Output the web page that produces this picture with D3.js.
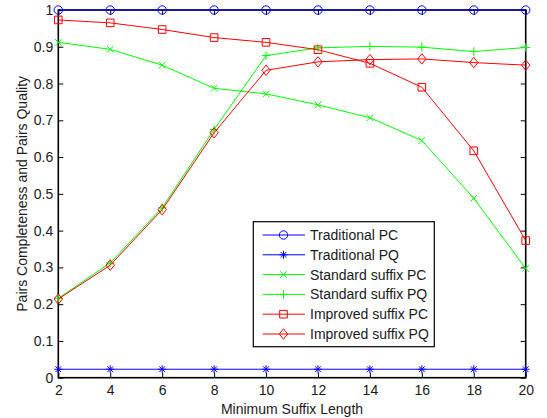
<!DOCTYPE html>
<html>
<head>
<meta charset="utf-8">
<script src="https://cdn.jsdelivr.net/npm/d3@7"></script>
<style>
  html, body { margin: 0; padding: 0; background: #fff; }
  text { font-family: "Liberation Sans", Arial, sans-serif; fill: #1a1a1a; }
</style>
</head>
<body>
<svg id="chart" width="547" height="418"></svg>
<script>
// Minimum suffix length values on the x axis
const suffixLengths = [2, 4, 6, 8, 10, 12, 14, 16, 18, 20];

// Pairs completeness (PC) and pairs quality (PQ) for each method
const traditionalPC = [1, 1, 1, 1, 1, 1, 1, 1, 1, 1];
const traditionalPQ = [0.023, 0.023, 0.023, 0.023, 0.023, 0.023, 0.023, 0.023, 0.023, 0.023];
const standardPC = [0.912, 0.893, 0.850, 0.787, 0.772, 0.742, 0.707, 0.645, 0.488, 0.297];
const standardPQ = [0.216, 0.312, 0.462, 0.675, 0.876, 0.897, 0.901, 0.899, 0.887, 0.898];
const improvedPC = [0.973, 0.965, 0.947, 0.925, 0.912, 0.892, 0.855, 0.790, 0.617, 0.373];
const improvedPQ = [0.214, 0.306, 0.457, 0.666, 0.836, 0.859, 0.865, 0.867, 0.857, 0.850];

const yTicks = [0, 0.1, 0.2, 0.3, 0.4, 0.5, 0.6, 0.7, 0.8, 0.9, 1];

const series = [
  { name: "Traditional PC", values: traditionalPC, color: "#0000ff", marker: "circle" },
  { name: "Traditional PQ", values: traditionalPQ, color: "#0000ff", marker: "star" },
  { name: "Standard suffix PC", values: standardPC, color: "#00ff00", marker: "x" },
  { name: "Standard suffix PQ", values: standardPQ, color: "#00ff00", marker: "plus" },
  { name: "Improved suffix PC", values: improvedPC, color: "#ff0000", marker: "square" },
  { name: "Improved suffix PQ", values: improvedPQ, color: "#ff0000", marker: "diamond" }
];

const svg = d3.select("#chart");
const plotLeft = 58.3, plotRight = 525.7, plotTop = 10, plotBottom = 377.7;
const fontSize = 14;

const x = d3.scaleLinear().domain([2, 20]).range([plotLeft, plotRight]);
const y = d3.scaleLinear().domain([0, 1]).range([plotBottom, plotTop]);

// Marker path generators, centred on the origin
function markerPath(type) {
  const p = d3.path();
  switch (type) {
    case "circle": p.moveTo(4.2, 0); p.arc(0, 0, 4.2, 0, 2 * Math.PI); break;
    case "square": p.rect(-3.8, -3.8, 7.6, 7.6); break;
    case "diamond": p.moveTo(0, -5.2); p.lineTo(4.2, 0); p.lineTo(0, 5.2); p.lineTo(-4.2, 0); p.closePath(); break;
    case "x": p.moveTo(-3.3, -3.3); p.lineTo(3.3, 3.3); p.moveTo(-3.3, 3.3); p.lineTo(3.3, -3.3); break;
    case "plus": p.moveTo(-4.3, 0); p.lineTo(4.3, 0); p.moveTo(0, -4.3); p.lineTo(0, 4.3); break;
    case "star":
      p.moveTo(-4, 0); p.lineTo(4, 0); p.moveTo(0, -4); p.lineTo(0, 4);
      p.moveTo(-2.9, -2.9); p.lineTo(2.9, 2.9); p.moveTo(-2.9, 2.9); p.lineTo(2.9, -2.9);
      break;
  }
  return p.toString();
}

// Axes: ticks point inward on all four sides
const gAxes = svg.append("g");
const tickLen = 5;
gAxes.append("g")
  .attr("transform", `translate(0,${plotBottom})`)
  .call(d3.axisBottom(x).tickValues(suffixLengths).tickSizeInner(-tickLen).tickSizeOuter(0).tickPadding(7))
  .call(g => g.select(".domain").remove());
gAxes.append("g")
  .attr("transform", `translate(0,${plotTop})`)
  .call(d3.axisTop(x).tickValues(suffixLengths).tickSizeInner(-tickLen).tickSizeOuter(0).tickFormat(""))
  .call(g => g.select(".domain").remove());
gAxes.append("g")
  .attr("transform", `translate(${plotLeft},0)`)
  .call(d3.axisLeft(y).tickValues(yTicks).tickSizeInner(-tickLen).tickSizeOuter(0).tickPadding(5)
    .tickFormat(d => d === 0 || d === 1 ? String(d) : d3.format(".1f")(d)))
  .call(g => g.select(".domain").remove());
gAxes.append("g")
  .attr("transform", `translate(${plotRight},0)`)
  .call(d3.axisRight(y).tickValues(yTicks).tickSizeInner(-tickLen).tickSizeOuter(0).tickFormat(""))
  .call(g => g.select(".domain").remove());

gAxes.selectAll(".tick line").attr("stroke", "#000").attr("stroke-width", 1);
gAxes.selectAll(".tick text")
  .attr("font-size", fontSize).attr("fill", "#1a1a1a")
  .attr("font-family", "'Liberation Sans', Arial, sans-serif");

// Plot box
svg.append("rect")
  .attr("x", plotLeft).attr("y", plotTop)
  .attr("width", plotRight - plotLeft).attr("height", plotBottom - plotTop)
  .attr("fill", "none").attr("stroke", "#000").attr("stroke-width", 1.6);

// Series lines and markers
const line = d3.line().x((d, i) => x(suffixLengths[i])).y(d => y(d));
const gSeries = svg.append("g");
series.forEach(s => {
  gSeries.append("path")
    .attr("d", line(s.values))
    .attr("fill", "none").attr("stroke", s.color).attr("stroke-width", 1);
  gSeries.selectAll(null)
    .data(s.values)
    .join("path")
    .attr("transform", (d, i) => `translate(${x(suffixLengths[i])},${y(d)})`)
    .attr("d", markerPath(s.marker))
    .attr("fill", "none").attr("stroke", s.color).attr("stroke-width", 1);
});

// Axis titles
svg.append("text")
  .attr("x", (plotLeft + plotRight) / 2).attr("y", 414)
  .attr("text-anchor", "middle").attr("font-size", fontSize)
  .text("Minimum Suffix Length");
svg.append("text")
  .attr("transform", `translate(26.5,${(plotTop + plotBottom) / 2}) rotate(-90)`)
  .attr("text-anchor", "middle").attr("font-size", fontSize)
  .text("Pairs Completeness and Pairs Quality");

// Legend
const lg = svg.append("g");
const lgX = 253.3, lgY = 221.7, lgW = 181, lgH = 125;
lg.append("rect")
  .attr("x", lgX).attr("y", lgY).attr("width", lgW).attr("height", lgH)
  .attr("fill", "#fff").attr("stroke", "#000").attr("stroke-width", 1.2);
series.forEach((s, i) => {
  const cy = 235 + i * 19.8;
  lg.append("line")
    .attr("x1", 262.7).attr("x2", 305).attr("y1", cy).attr("y2", cy)
    .attr("stroke", s.color).attr("stroke-width", 1);
  lg.append("path")
    .attr("transform", `translate(283.5,${cy})`)
    .attr("d", markerPath(s.marker))
    .attr("fill", "none").attr("stroke", s.color).attr("stroke-width", 1);
  lg.append("text")
    .attr("x", 310).attr("y", cy + 5)
    .attr("font-size", fontSize)
    .text(s.name);
});
</script>
</body>
</html>
